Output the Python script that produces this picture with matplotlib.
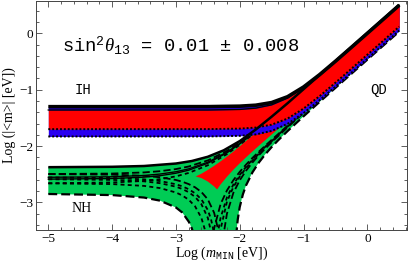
import matplotlib
matplotlib.use("Agg")
import matplotlib.pyplot as plt
from matplotlib.ticker import MultipleLocator

plt.rcParams["mathtext.fontset"] = "custom"
plt.rcParams["mathtext.rm"] = "Liberation Mono"
plt.rcParams["mathtext.it"] = "Liberation Serif:italic"
plt.rcParams["mathtext.bf"] = "Liberation Serif:bold"

# ---------------- data ----------------
# Inverted hierarchy bands
ih_x        = [-5, -2.5, -2, -1.75, -1.5, -1.25, -1, -0.75, -0.5, -0.25, 0, 0.25, 0.5]
ih_top      = [-1.301, -1.300, -1.292, -1.275, -1.228, -1.124, -0.952, -0.734, -0.495, -0.248, 0.001, 0.25, 0.5]
ih_red_top  = [-1.36, -1.36, -1.35, -1.327, -1.269, -1.148, -0.962, -0.737, -0.496, -0.249, 0.0, 0.25, 0.5]
ih_red_low  = [-1.70, -1.699, -1.691, -1.672, -1.621, -1.512, -1.335, -1.115, -0.875, -0.628, -0.379, -0.13, 0.12]
ih_blue_low = [-1.83, -1.83, -1.818, -1.794, -1.732, -1.605, -1.415, -1.188, -0.946, -0.699, -0.45, -0.2, 0.05]

# Normal hierarchy: outer (green) region
nh_top_x = [-5, -4, -3.5, -3, -2.75, -2.5, -2.25, -2, -1.75, -1.5, -1.25, -1, -0.75, -0.5, 0, 0.5]
nh_top_y = [-2.375, -2.368, -2.354, -2.31, -2.265, -2.19, -2.075, -1.912, -1.708, -1.479, -1.24, -0.991, -0.742, -0.492, 0.008, 0.508]
nh_lowl_x = [-5, -4, -3.5, -3.25, -3, -2.9, -2.8, -2.78, -2.75, -2.72]
nh_lowl_y = [-2.851, -2.870, -2.914, -2.969, -3.09, -3.18, -3.34, -3.383, -3.465, -3.574]
nh_lowr_x = [-2.055, -2.04, -2.03, -2.0, -1.95, -1.9, -1.8, -1.7, -1.6, -1.5, -1.4, -1.25, -1.0, -0.75, -0.5, 0, 0.5]
nh_lowr_y = [-3.60, -3.397, -3.298, -3.085, -2.856, -2.696, -2.466, -2.292, -2.147, -2.018, -1.900, -1.734, -1.472, -1.218, -0.967, -0.466, 0.034]

# Normal hierarchy: red (CP violating) region
nhr_top_x = [-2.69, -2.6, -2.5, -2.4, -2.3, -2.2, -2.1, -2.0, -1.9, -1.8, -1.7, -1.6, -1.5, -1.25, -1.0, -0.5, 0, 0.5]
nhr_top_y = [-2.54, -2.491, -2.424, -2.351, -2.272, -2.188, -2.099, -2.006, -1.909, -1.811, -1.712, -1.612, -1.511, -1.259, -1.008, -0.508, -0.008, 0.492]
nhr_right_x = [-2.355, -2.3, -2.2, -2.1, -2.0, -1.9, -1.8, -1.7, -1.6, -1.5, -1.25, -1.0, -0.5, 0, 0.5]
nhr_right_y = [-2.77, -2.682, -2.545, -2.421, -2.307, -2.200, -2.096, -1.995, -1.896, -1.797, -1.550, -1.302, -0.803, -0.303, 0.197]
nhr_left_x = [-2.69, -2.6, -2.5, -2.4, -2.355]
nhr_left_y = [-2.54, -2.568, -2.630, -2.718, -2.77]

# NH CP-conserving curves
rise_x = [-5, -4, -3.5, -3.25, -3, -2.8, -2.5, -2.2, -2.0, -1.8, -1.5, -1.25, -1.0]
a10 = [-2.496, -2.488, -2.468, -2.446, -2.409, -2.363, -2.255, -2.086, -1.938, -1.768, -1.487, -1.243, -0.995]
b10 = [-2.660, -2.647, -2.619, -2.588, -2.538, -2.477, -2.341, -2.143, -1.978, -1.795, -1.503, -1.254, -1.004]
a02 = [-2.554, -2.545, -2.522, -2.497, -2.456, -2.405, -2.287, -2.108, -1.954, -1.778, -1.493, -1.247, -0.999]
b02 = [-2.587, -2.576, -2.552, -2.526, -2.482, -2.428, -2.305, -2.119, -1.962, -1.784, -1.497, -1.250, -1.001]

c10l_x = [-5, -4, -3.5, -3.25, -3, -2.9, -2.8, -2.7, -2.6, -2.55, -2.53]
c10l_y = [-2.662, -2.675, -2.707, -2.746, -2.824, -2.877, -2.952, -3.069, -3.277, -3.468, -3.585]
c10r_x = [-2.41, -2.4, -2.3, -2.2, -2.1, -2.0, -1.9, -1.8, -1.7, -1.6, -1.5, -1.25, -1.0]
c10r_y = [-3.527, -3.456, -3.030, -2.787, -2.607, -2.458, -2.328, -2.210, -2.100, -1.994, -1.891, -1.638, -1.387]
d10l_x = [-5, -4, -3.5, -3.25, -3, -2.9, -2.8, -2.7, -2.6, -2.5, -2.4, -2.35, -2.33]
d10l_y = [-2.498, -2.507, -2.528, -2.554, -2.602, -2.633, -2.675, -2.732, -2.816, -2.946, -3.187, -3.429, -3.595]
d10r_x = [-2.24, -2.2, -2.1, -2.0, -1.9, -1.8, -1.7, -1.6, -1.5, -1.25, -1.0]
d10r_y = [-3.478, -3.199, -2.832, -2.608, -2.436, -2.292, -2.163, -2.045, -1.932, -1.667, -1.412]

c02l_x = [-5, -4, -3.5, -3.25, -3, -2.9, -2.8, -2.7, -2.6, -2.5, -2.45, -2.44]
c02l_y = [-2.589, -2.600, -2.626, -2.659, -2.721, -2.762, -2.819, -2.902, -3.032, -3.274, -3.519, -3.6]
c02r_x = [-2.33, -2.3, -2.2, -2.1, -2.0, -1.9, -1.8, -1.7, -1.6, -1.5, -1.25, -1.0]
c02r_y = [-3.461, -3.274, -2.909, -2.684, -2.512, -2.368, -2.241, -2.124, -2.013, -1.907, -1.649, -1.397]
d02l_x = [-5, -4, -3.5, -3.25, -3, -2.9, -2.8, -2.7, -2.6, -2.5, -2.45, -2.42, -2.4]
d02l_y = [-2.557, -2.567, -2.591, -2.621, -2.678, -2.715, -2.766, -2.838, -2.947, -3.135, -3.298, -3.451, -3.60]
d02r_x = [-2.32, -2.3, -2.2, -2.1, -2.0, -1.9, -1.8, -1.7, -1.6, -1.5, -1.25, -1.0]
d02r_y = [-3.684, -3.478, -2.986, -2.728, -2.541, -2.389, -2.257, -2.136, -2.023, -1.914, -1.654, -1.402]

title_text = "sin$^{2}\\theta_{13}$ = 0.01 \u00b1 0.008"
x_ticks = [-5, -4, -3, -2, -1, 0]
y_ticks = [-3, -2, -1, 0]

# ---------------- style ----------------
GREEN = "#00cc55"
RED = "#ff0000"
BLUE = "#2a00f0"
SERIF = ["Liberation Serif", "DejaVu Serif"]
MONO = ["Liberation Mono", "DejaVu Sans Mono"]

fig = plt.figure(figsize=(4.09, 2.62), dpi=100)
ax = fig.add_axes([36 / 409, 1 - 230 / 262, 371 / 409, 229 / 262])

# NH green region
poly_x = nh_top_x + nh_lowr_x[::-1] + nh_lowl_x[::-1]
poly_y = nh_top_y + nh_lowr_y[::-1] + nh_lowl_y[::-1]
ax.fill(poly_x, poly_y, color=GREEN, lw=0, zorder=1)

# NH red region
rp_x = nhr_top_x + nhr_right_x[::-1] + nhr_left_x[::-1]
rp_y = nhr_top_y + nhr_right_y[::-1] + nhr_left_y[::-1]
ax.fill(rp_x, rp_y, color=RED, lw=0, zorder=2)

LONG = (4.0, 1.8)
SHORT = (2.2, 1.8)
lw_in = 1.3
for xs, ys in [(rise_x, a10), (c10r_x, c10r_y), (d10l_x, d10l_y), (d10r_x, d10r_y)]:
    ax.plot(xs, ys, color="black", lw=lw_in, dashes=LONG, zorder=3)
for xs, ys in [(rise_x, b10), (c10l_x, c10l_y), (c02l_x, c02l_y), (c02r_x, c02r_y),
               (d02l_x, d02l_y), (d02r_x, d02r_y)]:
    ax.plot(xs, ys, color="black", lw=lw_in, dashes=SHORT, zorder=3)
for xs, ys in [(rise_x, a02), (rise_x, b02)]:
    ax.plot(xs, ys, color="black", lw=1.0, zorder=3)

# green boundaries
ax.plot(nh_lowl_x, nh_lowl_y, color="black", lw=1.6, dashes=LONG, zorder=3)
ax.plot(nh_lowr_x, nh_lowr_y, color="black", lw=1.6, dashes=LONG, zorder=3)

# IH bands
ax.fill_between(ih_x, ih_blue_low, ih_top, color=BLUE, lw=0, zorder=4)
ax.fill_between(ih_x, ih_red_low, ih_red_top, color=RED, lw=0, zorder=5)
ax.plot(ih_x, ih_top, color="black", lw=2.6, zorder=6, solid_capstyle="butt")
ax.plot(ih_x, ih_red_top, color="black", lw=1.0, zorder=6)
ax.plot(ih_x, ih_red_low, color="black", lw=1.4, dashes=(1, 1), zorder=6)
ax.plot(ih_x, ih_blue_low, color="black", lw=1.4, dashes=(1, 1), zorder=6)

# NH top boundary (drawn over everything)
ax.plot(nh_top_x, nh_top_y, color="black", lw=1.8, zorder=7, solid_capstyle="butt")

# ---------------- axes ----------------
ax.set_xlim(-5.193, 0.622)
ax.set_ylim(-3.49, 0.575)
ax.set_xticks(x_ticks)
ax.set_yticks(y_ticks)
ax.set_xticklabels(["\u2212%d" % -v if v < 0 else "%d" % v for v in x_ticks], family=SERIF, fontsize=9.5)
ax.set_yticklabels(["\u2212%d" % -v if v < 0 else "%d" % v for v in y_ticks], family=SERIF, fontsize=9.5)
ax.xaxis.set_minor_locator(MultipleLocator(0.2))
ax.yaxis.set_minor_locator(MultipleLocator(0.2))
ax.tick_params(which="both", direction="in", top=True, right=True, color="#444444", width=0.6)
ax.tick_params(which="major", length=4, pad=2)
ax.tick_params(which="minor", length=2)
for s in ax.spines.values():
    s.set_linewidth(0.7)
    s.set_color("#444444")

ax.set_xlabel(r"Log ($m_{\mathrm{MIN}}$ [eV])", family=SERIF, fontsize=10, labelpad=0)
ax.set_ylabel("Log (|<m>| [eV])", family=SERIF, fontsize=10, labelpad=2)

fig.text(62 / 409, 1 - 52 / 262, title_text, family=MONO, fontsize=13.5, va="baseline", ha="left")
ax.text(-4.46, -1.0, "IH", family=MONO, fontsize=10, ha="center", va="center")
ax.text(-4.47, -3.10, "NH", family=SERIF, fontsize=10, ha="center", va="center")
ax.text(0.18, -1.0, "QD", family=MONO, fontsize=10, ha="center", va="center")

fig.savefig("out.png", dpi=100)
